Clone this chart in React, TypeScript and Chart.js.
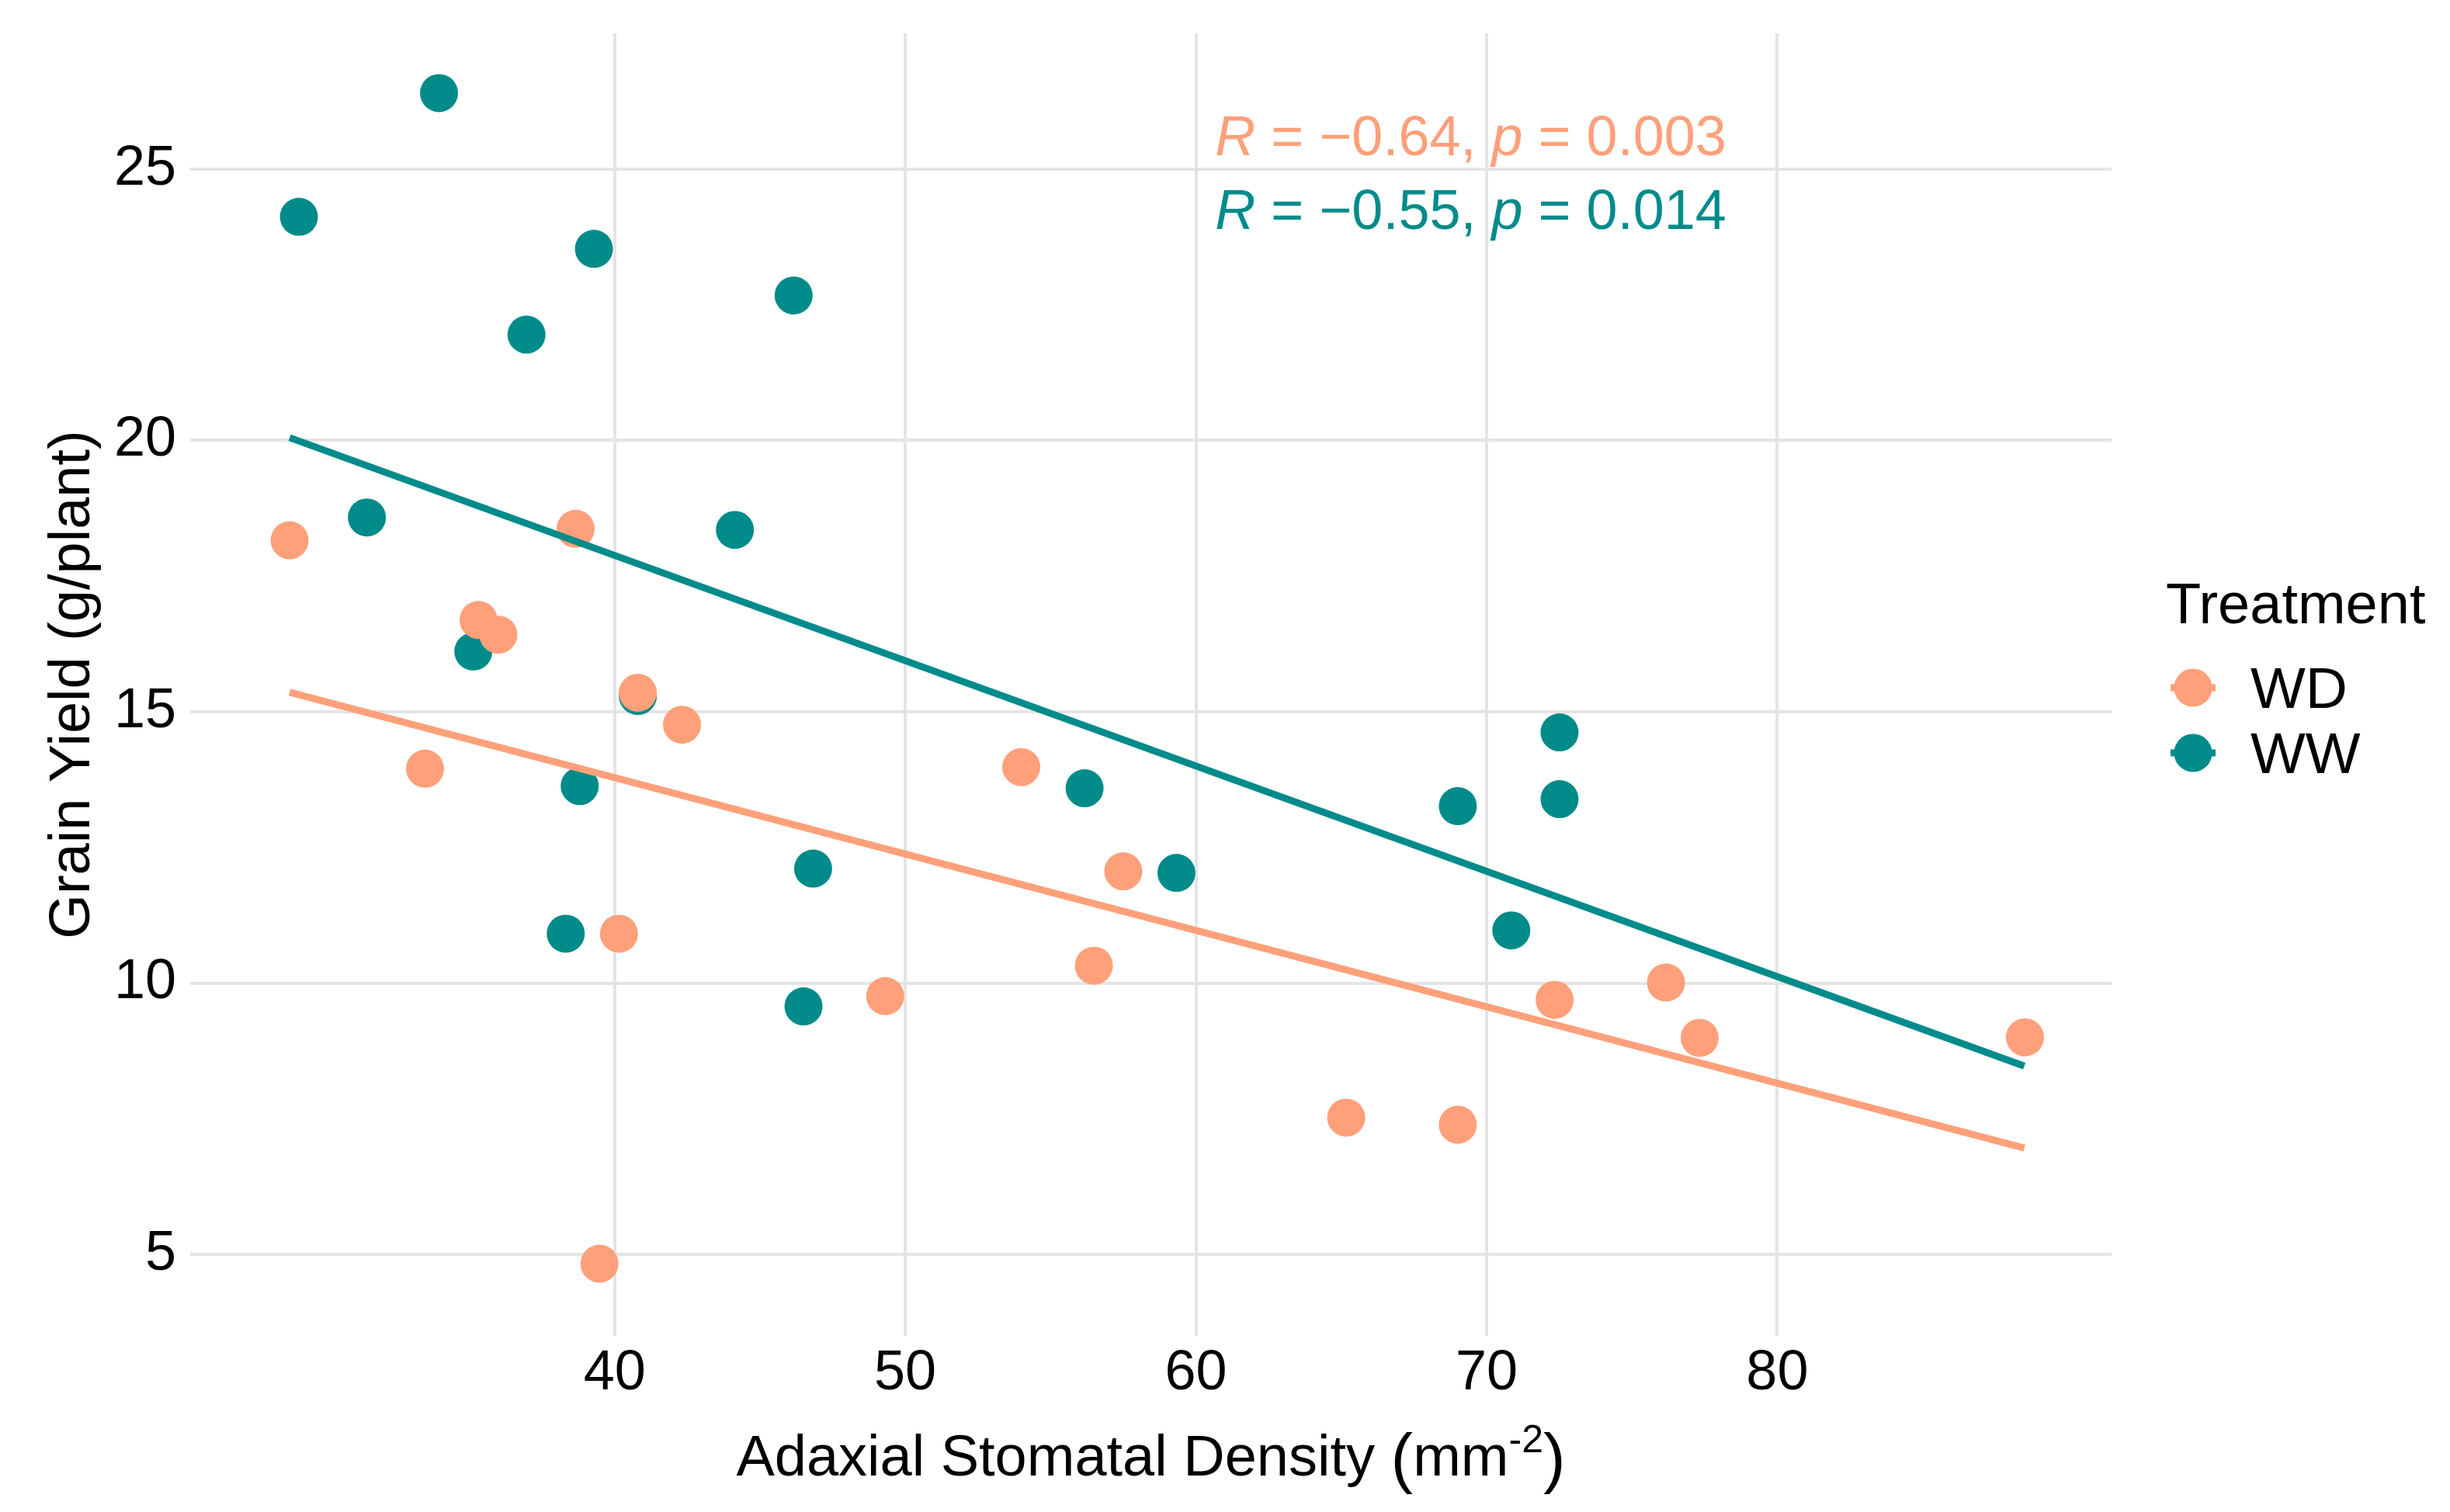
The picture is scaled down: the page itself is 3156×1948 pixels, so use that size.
import React, { useEffect, useRef } from 'react';
import { Chart, registerables } from 'chart.js';
Chart.register(...registerables);

const WD_COLOR = '#FFA07A';
const WW_COLOR = '#008B8B';
const FONT = "'Liberation Sans', Arial, Helvetica, sans-serif";

// adaxial stomatal density (mm^-2) and grain yield (g/plant)
const wdDensity = [28.82, 38.66, 35.32, 36.0, 33.48, 40.8, 42.32, 40.15, 39.48, 49.31, 53.99, 57.5, 56.49, 65.17, 69.01, 72.34, 76.17, 77.33, 88.52];
const wdYield = [18.16, 18.37, 16.69, 16.42, 13.95, 15.35, 14.76, 10.91, 4.83, 9.76, 13.98, 12.06, 10.32, 7.52, 7.39, 9.69, 10.01, 8.99, 9.0];

const wwDensity = [33.96, 29.14, 39.29, 36.97, 46.16, 31.48, 44.14, 35.14, 40.8, 38.8, 38.32, 46.83, 46.5, 56.17, 59.33, 69.01, 72.51, 72.51, 70.85];
const wwYield = [26.4, 24.12, 23.53, 21.95, 22.67, 18.58, 18.35, 16.11, 15.29, 13.63, 10.91, 12.11, 9.57, 13.59, 12.03, 13.26, 14.62, 13.39, 10.97];

// linear fits, end points
const fitX = [28.82, 88.5];
const wdFitY = [15.36, 6.96];
const wwFitY = [20.05, 8.47];

const xTicks = [40, 50, 60, 70, 80];
const yTicks = [5, 10, 15, 20, 25];

const groups = ['WD', 'WW'];
const corR = ['−0.64', '−0.55'];
const corP = ['0.003', '0.014'];

const pts = (xs: number[], ys: number[]) => xs.map((x, i) => ({ x, y: ys[i] }));

const overlay = {
  id: 'overlay',
  afterDraw(chart: any) {
    const { ctx, chartArea } = chart;
    const xs = chart.scales.x;
    const ys = chart.scales.y;
    ctx.save();
    ctx.fillStyle = '#000';
    ctx.textBaseline = 'alphabetic';

    // x title with superscript
    const big = `74px ${FONT}`;
    const paren = `86px ${FONT}`;
    const sup = `50px ${FONT}`;
    const main = 'Adaxial Stomatal Density ';
    ctx.font = big;
    const w1 = ctx.measureText(main).width;
    const w2 = ctx.measureText('mm').width;
    ctx.font = paren;
    const wp = ctx.measureText('(').width;
    ctx.font = sup;
    const ws = ctx.measureText('-2').width;
    const total = w1 + wp + w2 + ws + wp;
    let cx = (chartArea.left + chartArea.right) / 2 - total / 2;
    const by = 1901;
    ctx.textAlign = 'left';
    ctx.font = big;
    ctx.fillText(main, cx, by);
    cx += w1;
    ctx.font = paren;
    ctx.fillText('(', cx, by + 6);
    cx += wp;
    ctx.font = big;
    ctx.fillText('mm', cx, by);
    cx += w2;
    ctx.font = sup;
    ctx.fillText('-2', cx, by - 30);
    cx += ws;
    ctx.font = paren;
    ctx.fillText(')', cx, by + 6);

    // y title
    ctx.save();
    ctx.translate(115, (chartArea.top + chartArea.bottom) / 2);
    ctx.rotate(-Math.PI / 2);
    ctx.textAlign = 'center';
    ctx.font = big;
    ctx.fillText('Grain Yield (g/plant)', 0, 0);
    ctx.restore();

    // correlation labels
    const colors = [WD_COLOR, WW_COLOR];
    const labelY = [25.26, 23.89];
    groups.forEach((_, i) => {
      let x = xs.getPixelForValue(60.66);
      const y = ys.getPixelForValue(labelY[i]);
      ctx.fillStyle = colors[i];
      const parts: [string, boolean][] = [
        ['R', true],
        [' = ' + corR[i] + ', ', false],
        ['p', true],
        [' = ' + corP[i], false],
      ];
      parts.forEach(([t, it]) => {
        ctx.font = `${it ? 'italic ' : ''}72px ${FONT}`;
        ctx.fillText(t, x, y);
        x += ctx.measureText(t).width;
      });
    });

    // legend
    const lx = chartArea.right;
    ctx.fillStyle = '#000';
    ctx.font = big;
    ctx.fillText('Treatment', lx + 70, 803);
    const keyY = [886, 970];
    groups.forEach((g, i) => {
      const kx = lx + 105;
      ctx.strokeStyle = colors[i];
      ctx.lineWidth = 9;
      ctx.beginPath();
      ctx.moveTo(kx - 29, keyY[i]);
      ctx.lineTo(kx + 29, keyY[i]);
      ctx.stroke();
      ctx.fillStyle = colors[i];
      ctx.beginPath();
      ctx.arc(kx, keyY[i], 24.5, 0, Math.PI * 2);
      ctx.fill();
      ctx.fillStyle = '#000';
      ctx.font = `75px ${FONT}`;
      ctx.fillText(g, lx + 179, keyY[i] + 26);
    });
    ctx.restore();
  },
};

const App = () => {
  const chartRef = useRef<HTMLCanvasElement>(null);

  useEffect(() => {
    const ctx = (chartRef.current as HTMLCanvasElement).getContext('2d');
    const chart = new Chart(ctx as any, {
      type: 'scatter',
      data: {
        datasets: [
          {
            label: 'WD fit',
            data: pts(fitX, wdFitY),
            showLine: true,
            borderColor: WD_COLOR,
            borderWidth: 9,
            pointRadius: 0,
            order: 0,
          },
          {
            label: 'WW fit',
            data: pts(fitX, wwFitY),
            showLine: true,
            borderColor: WW_COLOR,
            borderWidth: 9,
            pointRadius: 0,
            order: 1,
          },
          {
            label: 'WD',
            data: pts(wdDensity, wdYield),
            backgroundColor: WD_COLOR,
            borderWidth: 0,
            pointRadius: 24.5,
            order: 2,
          },
          {
            label: 'WW',
            data: pts(wwDensity, wwYield),
            backgroundColor: WW_COLOR,
            borderWidth: 0,
            pointRadius: 24.5,
            order: 3,
          },
        ],
      },
      options: {
        responsive: true,
        maintainAspectRatio: false,
        animation: false,
        layout: { padding: { top: 43, right: 436, left: 0, bottom: 0 } },
        plugins: {
          legend: { display: false },
          tooltip: { enabled: false },
        },
        scales: {
          x: {
            type: 'linear',
            min: 25.4,
            max: 91.5,
            afterBuildTicks: (s: any) => {
              s.ticks = xTicks.map((v) => ({ value: v }));
            },
            afterFit: (s: any) => {
              s.height = 227;
              s.paddingLeft = 0;
              s.paddingRight = 0;
            },
            grid: { color: '#e4e4e4', lineWidth: 4, drawTicks: false },
            border: { display: false },
            ticks: {
              color: '#000',
              padding: 6,
              maxRotation: 0,
              font: { family: FONT, size: 72 },
            },
          },
          y: {
            type: 'linear',
            min: 3.5,
            max: 27.5,
            afterBuildTicks: (s: any) => {
              s.ticks = yTicks.map((v) => ({ value: v }));
            },
            afterFit: (s: any) => {
              s.width = 245;
              s.paddingTop = 0;
              s.paddingBottom = 0;
            },
            grid: { color: '#e4e4e4', lineWidth: 4, drawTicks: false },
            border: { display: false },
            ticks: {
              color: '#000',
              padding: 18,
              font: { family: FONT, size: 72 },
            },
          },
        },
      },
      plugins: [overlay],
    });

    return () => {
      chart.destroy();
    };
  }, []);

  return (
    <div style={{ position: 'absolute', left: 0, top: 0, width: 3156, height: 1948, background: '#fff' }}>
      <canvas ref={chartRef}></canvas>
    </div>
  );
};

export default App;
